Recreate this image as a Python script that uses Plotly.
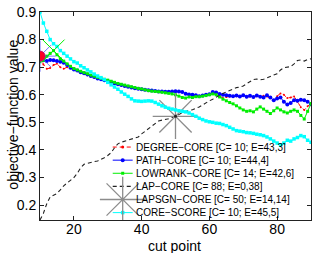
import plotly.graph_objects as go

cut_points = list(range(10, 91))

core_score = [0.90, 0.86, 0.83, 0.80, 0.785, 0.775, 0.76, 0.75, 0.74, 0.73,
              0.72, 0.715, 0.705, 0.698, 0.69, 0.683, 0.675, 0.668, 0.662, 0.655,
              0.645, 0.636, 0.628, 0.62, 0.61, 0.602, 0.594, 0.585, 0.578, 0.577,
              0.576, 0.577, 0.578, 0.577, 0.572, 0.566, 0.56, 0.555, 0.551, 0.548,
              0.545, 0.542, 0.54, 0.538, 0.534, 0.528, 0.522, 0.515, 0.51, 0.505,
              0.502, 0.5, 0.497, 0.496, 0.492, 0.488, 0.482, 0.476, 0.47, 0.468,
              0.466, 0.463, 0.462, 0.46, 0.457, 0.455, 0.452, 0.447, 0.44, 0.432,
              0.425, 0.418, 0.425, 0.435, 0.432, 0.44, 0.445, 0.452, 0.448, 0.435,
              0.428]

path_core = [0.74, 0.725, 0.722, 0.726, 0.725, 0.722, 0.72, 0.716, 0.708, 0.698,
             0.692, 0.688, 0.682, 0.678, 0.673, 0.668, 0.664, 0.659, 0.656, 0.653,
             0.65, 0.646, 0.642, 0.638, 0.635, 0.632, 0.629, 0.626, 0.624, 0.622,
             0.62, 0.618, 0.616, 0.615, 0.614, 0.612, 0.612, 0.611, 0.611, 0.612,
             0.613, 0.612, 0.61, 0.604, 0.601, 0.6, 0.598, 0.595, 0.597, 0.6,
             0.602, 0.61, 0.608, 0.603, 0.6, 0.598, 0.596, 0.595, 0.597, 0.594,
             0.598, 0.593, 0.596, 0.592, 0.597, 0.593, 0.59, 0.598, 0.59, 0.58,
             0.586, 0.59, 0.575, 0.565, 0.57, 0.58, 0.578, 0.582, 0.58, 0.575,
             0.566]

degree_core = [0.74, 0.71, 0.694, 0.697, 0.708, 0.712, 0.70, 0.694, 0.70, 0.696,
               0.69, 0.686, 0.68, 0.676, 0.671, 0.667, 0.663, 0.658, 0.655, 0.652,
               0.649, 0.645, 0.641, 0.637, 0.634, 0.631, 0.628, 0.625, 0.623, 0.621,
               0.619, 0.617, 0.615, 0.614, 0.613, 0.611, 0.611, 0.610, 0.610, 0.611,
               0.612, 0.611, 0.609, 0.603, 0.600, 0.599, 0.597, 0.594, 0.596, 0.599,
               0.601, 0.606, 0.604, 0.596, 0.588, 0.592, 0.594, 0.593, 0.595, 0.592,
               0.596, 0.591, 0.594, 0.590, 0.595, 0.592, 0.596, 0.594, 0.588, 0.58,
               0.595, 0.605, 0.60, 0.588, 0.59, 0.594, 0.575, 0.555, 0.545, 0.558,
               0.57]

lowrank_core = [0.72, 0.725, 0.74, 0.75, 0.76, 0.745, 0.73, 0.722, 0.712, 0.703,
                0.695, 0.69, 0.685, 0.68, 0.676, 0.671, 0.667, 0.663, 0.66, 0.656,
                0.653, 0.649, 0.645, 0.641, 0.638, 0.635, 0.632, 0.629, 0.626, 0.623,
                0.621, 0.618, 0.615, 0.613, 0.612, 0.611, 0.609, 0.607, 0.605, 0.603,
                0.60, 0.595, 0.59, 0.588, 0.592, 0.59, 0.593, 0.593, 0.595, 0.597,
                0.60, 0.603, 0.60, 0.592, 0.584, 0.578, 0.572, 0.567, 0.56, 0.552,
                0.545, 0.54, 0.542, 0.538, 0.548, 0.556, 0.548, 0.54, 0.532, 0.542,
                0.552, 0.545, 0.538, 0.534, 0.54, 0.545, 0.54, 0.525, 0.512, 0.54,
                0.568]

lap_core = [0.146, 0.17, 0.205, 0.23, 0.236, 0.242, 0.255, 0.27, 0.28, 0.29,
            0.30, 0.315, 0.335, 0.348, 0.352, 0.355, 0.358, 0.36, 0.365, 0.372,
            0.38, 0.39, 0.408, 0.422, 0.428, 0.432, 0.436, 0.44, 0.442, 0.447,
            0.458, 0.468, 0.478, 0.488, 0.498, 0.505, 0.508, 0.51, 0.513, 0.518,
            0.522, 0.528, 0.535, 0.54, 0.543, 0.546, 0.55, 0.556, 0.563, 0.572,
            0.578, 0.584, 0.59, 0.598, 0.605, 0.61, 0.617, 0.622, 0.626, 0.628,
            0.632, 0.64, 0.648, 0.655, 0.657, 0.654, 0.656, 0.662, 0.668, 0.672,
            0.676, 0.69, 0.698, 0.70, 0.702, 0.712, 0.724, 0.726, 0.722, 0.728,
            0.73]

lapsgn_x = [50]
lapsgn_y = [0.522]

# best cut points highlighted
best_degree = (10, 0.74)
best_path = (10, 0.74)
best_lowrank = (14, 0.76)

legend_names = ["DEGREE−CORE [C= 10; E=43,3]",
                "PATH−CORE [C= 10; E=44,4]",
                "LOWRANK−CORE [C= 14; E=42,6]",
                "LAP−CORE [C= 88; E=0,38]",
                "LAPSGN−CORE [C= 50; E=14,14]",
                "CORE−SCORE [C= 10; E=45,5]"]

x_ticks = [20, 40, 60, 80]
y_ticks = [0.2, 0.3, 0.4, 0.5, 0.6, 0.7, 0.8, 0.9]

FONT = "Liberation Sans, Arial, sans-serif"
RED, BLUE, GREEN, BLACK, GRAY, CYAN = "#ff0000", "#0000ff", "#00ee00", "#222222", "#8c8c8c", "#00ffff"

fig = go.Figure()

fig.add_trace(go.Scatter(x=cut_points, y=degree_core, mode="lines+markers",
                         line=dict(color=RED, width=1, dash="4px,3px"),
                         marker=dict(color=RED, size=2), showlegend=False))
fig.add_trace(go.Scatter(x=cut_points, y=path_core, mode="lines+markers",
                         line=dict(color=BLUE, width=1),
                         marker=dict(color=BLUE, size=4), showlegend=False))
fig.add_trace(go.Scatter(x=cut_points, y=lowrank_core, mode="lines+markers",
                         line=dict(color=GREEN, width=1),
                         marker=dict(color=GREEN, size=3, symbol="square"), showlegend=False))
fig.add_trace(go.Scatter(x=cut_points, y=lap_core, mode="lines",
                         line=dict(color=BLACK, width=1.1, dash="4px,3px"), showlegend=False))
fig.add_trace(go.Scatter(x=lapsgn_x, y=lapsgn_y, mode="markers",
                         marker=dict(symbol="asterisk-open", size=38, color=GRAY,
                                     line=dict(color=GRAY, width=1.3)), showlegend=False))
fig.add_trace(go.Scatter(x=lapsgn_x, y=lapsgn_y, mode="markers",
                         marker=dict(size=3, color="#222222"), showlegend=False))
fig.add_trace(go.Scatter(x=cut_points, y=core_score, mode="lines+markers",
                         line=dict(color=CYAN, width=1),
                         marker=dict(color=CYAN, size=3.5, symbol="square"), showlegend=False))

# highlighted best cut points
fig.add_trace(go.Scatter(x=[best_path[0]], y=[best_path[1]], mode="markers",
                         marker=dict(symbol="asterisk-open", size=26, color="rgba(70,70,255,0.75)",
                                     line=dict(color="rgba(70,70,255,0.75)", width=1)),
                         showlegend=False))
fig.add_trace(go.Scatter(x=[best_lowrank[0]], y=[best_lowrank[1]], mode="markers",
                         marker=dict(symbol="x-thin-open", size=22, color=GREEN,
                                     line=dict(color=GREEN, width=1)),
                         showlegend=False))
fig.add_trace(go.Scatter(x=[best_degree[0]], y=[best_degree[1]], mode="markers",
                         marker=dict(symbol="circle", size=10, color="#ff0022",
                                     line=dict(color="#cc0066", width=1)),
                         showlegend=False))

# ---- manual legend (on an overlay axis in 0..1 units) ----
W, H = 316, 253
ML, MR, MT, MB = 40, 4, 9, 33
pw, ph = W - ML - MR, H - MT - MB
row_px = [146, 159.3, 172.6, 185.9, 199.2, 212.5]
rows = [(H - MB - r) / ph for r in row_px]
sx0, sx1 = (113 - ML) / pw, (133 - ML) / pw
tx = (134 - ML) / pw
sxm = (sx0 + sx1) / 2

leg_styles = [
    dict(line=dict(color=RED, width=1, dash="4px,3px"), marker=dict(color=RED, size=3)),
    dict(line=dict(color=BLUE, width=1), marker=dict(color=BLUE, size=4)),
    dict(line=dict(color=GREEN, width=1), marker=dict(color=GREEN, size=3, symbol="square")),
    dict(line=dict(color=BLACK, width=1.1, dash="4px,3px"), marker=dict(size=0.1, opacity=0)),
    dict(line=dict(color=GRAY, width=1), marker=dict(size=3, color="#222222")),
    dict(line=dict(color=CYAN, width=1), marker=dict(color=CYAN, size=3.5, symbol="square")),
]
for i, st in enumerate(leg_styles):
    fig.add_trace(go.Scatter(x=[sx0, sx1], y=[rows[i], rows[i]], mode="lines",
                             line=st["line"], xaxis="x2", yaxis="y2", showlegend=False,
                             hoverinfo="skip"))
    fig.add_trace(go.Scatter(x=[sxm], y=[rows[i]], mode="markers", marker=st["marker"],
                             xaxis="x2", yaxis="y2", showlegend=False, hoverinfo="skip"))
fig.add_trace(go.Scatter(x=[sxm], y=[rows[4]], mode="markers",
                         marker=dict(symbol="asterisk-open", size=38, color=GRAY,
                                     line=dict(color=GRAY, width=1.3)),
                         xaxis="x2", yaxis="y2", showlegend=False, hoverinfo="skip"))

for i, name in enumerate(legend_names):
    fig.add_annotation(x=tx, y=rows[i], xref="paper", yref="paper", text=name,
                       showarrow=False, xanchor="left", yanchor="middle",
                       font=dict(family=FONT, size=10, color="#000000"))

# axis titles
fig.add_annotation(x=(174.5 - ML) / pw, y=(H - MB - 246) / ph, xref="paper", yref="paper",
                   text="cut point", showarrow=False, xanchor="center", yanchor="middle",
                   font=dict(family=FONT, size=14, color="#000000"))
fig.add_annotation(x=(12 - ML) / pw, y=0.507, xref="paper", yref="paper",
                   text="objective−function value", showarrow=False, textangle=-90,
                   xanchor="center", yanchor="middle",
                   font=dict(family=FONT, size=14, color="#000000"))

axis_common = dict(showgrid=False, zeroline=False, showline=True, linecolor="#222222",
                   linewidth=1, mirror="ticks", ticks="inside", ticklen=4,
                   tickcolor="#222222", tickfont=dict(family=FONT, size=14, color="#000000"))

fig.update_layout(
    width=W, height=H,
    margin=dict(l=ML, r=MR, t=MT, b=MB, pad=0),
    paper_bgcolor="white", plot_bgcolor="white",
    showlegend=False,
    font=dict(family=FONT, color="#000000"),
    xaxis=dict(range=[10, 90], tickvals=x_ticks, ticktext=[str(v) for v in x_ticks],
               ticklabelstandoff=-4, **axis_common),
    yaxis=dict(range=[0.146, 0.9], tickvals=y_ticks, ticktext=[f"{v:.1f}" for v in y_ticks],
               **axis_common),
    xaxis2=dict(range=[0, 1], overlaying="x", visible=False, anchor="y2"),
    yaxis2=dict(range=[0, 1], overlaying="y", visible=False, anchor="x2"),
)

fig.write_html("out.html", config={"displayModeBar": False},
               post_script="document.body.style.margin='0px';document.body.style.padding='0px';")
